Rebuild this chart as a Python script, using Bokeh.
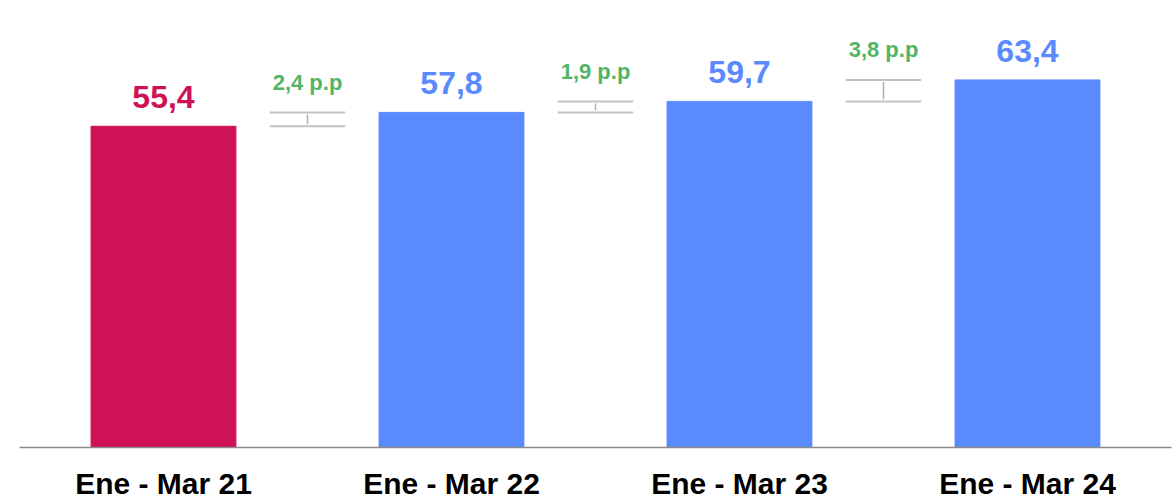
from bokeh.plotting import figure
from bokeh.models import ColumnDataSource, FactorRange, Range1d
from bokeh.core.properties import value
from bokeh.embed import file_html
from bokeh.resources import INLINE

categories = ["Ene - Mar 21", "Ene - Mar 22", "Ene - Mar 23", "Ene - Mar 24"]
values = [55.4, 57.8, 59.7, 63.4]
deltas = [2.4, 1.9, 3.8]

RED = "#CF1257"
BLUE = "#5A8AFE"
GREEN = "#52B466"
FONT = "Liberation Sans"

colors = [RED] + [BLUE] * (len(values) - 1)
fmt = lambda v: f"{v:.1f}".replace(".", ",")

p = figure(x_range=FactorRange(*categories, range_padding=0), y_range=Range1d(0, 77.1),
           width=1174, height=502, output_backend="svg", toolbar_location=None,
           min_border_left=19, min_border_right=3, min_border_top=0, min_border_bottom=0)
p.outline_line_color = None
p.grid.visible = False
p.yaxis.visible = False

src = ColumnDataSource(dict(x=categories, top=values, color=colors,
                            label=[fmt(v) for v in values]))
p.vbar(x="x", top="top", width=0.503, color="color", source=src)
p.text(x="x", y="top", text="label", text_color="color", source=src,
       text_align="center", text_baseline="alphabetic", y_offset=-29,
       text_font=value(FONT), text_font_size="32px", text_font_style="bold")

# gap annotations
gx = [i + 1 for i in range(len(deltas))]
lo = values[:-1]
hi = values[1:]
half = 0.131
p.segment(x0=[x - half for x in gx], x1=[x + half for x in gx], y0=lo, y1=lo,
          line_color="#c2c2c2", line_width=2)
p.segment(x0=[x - half for x in gx], x1=[x + half for x in gx], y0=hi, y1=hi,
          line_color="#c2c2c2", line_width=2)
p.segment(x0=gx, x1=gx, y0=[l + 0.35 for l in lo], y1=[h - 0.35 for h in hi],
          line_color="#b0b0b0", line_width=1.5)
p.text(x=gx, y=hi, text=[fmt(d) + " p.p" for d in deltas], text_color=GREEN,
       text_align="center", text_baseline="alphabetic", y_offset=-30,
       text_font=value(FONT), text_font_size="22px", text_font_style="bold")

ax = p.xaxis[0]
ax.axis_line_color = "#8a8a8a"
ax.axis_line_width = 1.5
ax.major_tick_line_color = None
ax.minor_tick_line_color = None
ax.major_label_text_font = FONT
ax.major_label_text_font_size = "30px"
ax.major_label_text_font_style = "bold"
ax.major_label_text_color = "#000000"
ax.major_label_standoff = 13

open("out.html", "w").write(file_html(p, INLINE))
